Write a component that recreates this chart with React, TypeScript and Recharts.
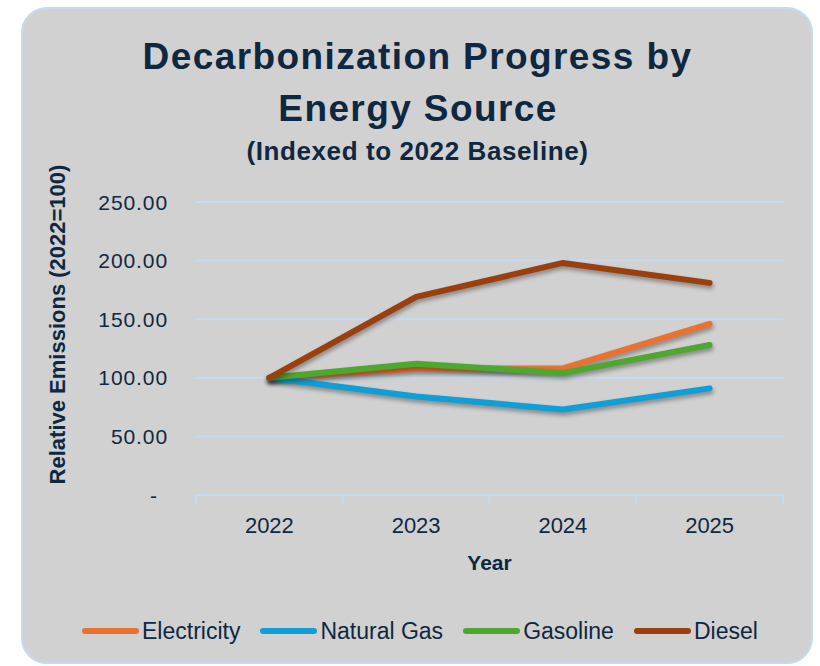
import { CartesianGrid, Legend, Line, LineChart, XAxis, YAxis } from "recharts";

const years = ["2022", "2023", "2024", "2025"];
const electricity = [100, 108, 108, 146];
const naturalGas = [100, 84, 73, 91];
const gasoline = [100, 112, 104, 128];
const diesel = [100, 169, 198, 181];
const yTicks = [0, 50, 100, 150, 200, 250];

const SERIES = [
  { key: "electricity", name: "Electricity", color: "#e97132" },
  { key: "naturalGas", name: "Natural Gas", color: "#0f9ed5" },
  { key: "gasoline", name: "Gasoline", color: "#4ea72e" },
  { key: "diesel", name: "Diesel", color: "#9c3f0e" },
];

const data = years.map((year, i) => ({
  year,
  electricity: electricity[i],
  naturalGas: naturalGas[i],
  gasoline: gasoline[i],
  diesel: diesel[i],
}));

const INK = "#0e2841";
const GRID = "#c6daf0";
const FONT = "'Liberation Sans', Arial, sans-serif";

function YTick({ x, y, payload }: any) {
  const v = payload.value as number;
  return (
    <text
      x={v === 0 ? x - 10 : x}
      y={y + 7.5}
      textAnchor="end"
      fill={INK}
      fontSize={21}
      letterSpacing={0.9}
      fontFamily={FONT}
    >
      {v === 0 ? "-" : v.toFixed(2)}
    </text>
  );
}

function XTick({ x, y, payload, index }: any) {
  const half = payload.offset ?? 73.4;
  const axisY = y - 8;
  return (
    <g>
      <line x1={x - half} x2={x - half} y1={axisY} y2={axisY + 8} stroke={GRID} strokeWidth={2} />
      {index === years.length - 1 && (
        <line x1={x + half} x2={x + half} y1={axisY} y2={axisY + 8} stroke={GRID} strokeWidth={2} />
      )}
      <text x={x} y={axisY + 38} textAnchor="middle" fill={INK} fontSize={22} fontFamily={FONT}>
        {payload.value}
      </text>
    </g>
  );
}

function YTitle({ viewBox }: any) {
  const x = viewBox.x;
  const y = viewBox.y + viewBox.height / 2 - 24;
  return (
    <text
      x={x}
      y={y}
      transform={`rotate(-90, ${x}, ${y})`}
      textAnchor="middle"
      fill={INK}
      fontSize={22}
      fontWeight="bold"
      fontFamily={FONT}
    >
      Relative Emissions (2022=100)
    </text>
  );
}

function XTitle({ viewBox }: any) {
  return (
    <text
      x={viewBox.x + viewBox.width / 2}
      y={viewBox.y + 75}
      textAnchor="middle"
      fill={INK}
      fontSize={21}
      fontWeight="bold"
      fontFamily={FONT}
    >
      Year
    </text>
  );
}

function LegendRow() {
  return (
    <div style={{ display: "flex", alignItems: "center", height: 26, paddingLeft: 82, fontFamily: FONT }}>
      {SERIES.map((s) => (
        <div key={s.key} style={{ display: "flex", alignItems: "center", marginRight: 20 }}>
          <div style={{ width: 57, height: 6, borderRadius: 3, background: s.color, marginRight: 3 }} />
          <span style={{ fontSize: 23, color: INK, lineHeight: "26px" }}>{s.name}</span>
        </div>
      ))}
    </div>
  );
}

export default function App() {
  return (
    <div style={{ position: "absolute", left: 0, top: 0, width: 820, height: 666, background: "#fff", overflow: "hidden" }}>
      <style>{`.recharts-line-curve { filter: drop-shadow(1px 3px 2px rgba(0,0,0,0.35)); }`}</style>
      <div
        style={{
          position: "absolute",
          left: 21,
          top: 7,
          width: 792,
          height: 657,
          boxSizing: "border-box",
          border: `2px solid ${GRID}`,
          borderRadius: 26,
          background: "#d1d1d1",
        }}
      />
      <svg width={820} height={180} style={{ position: "absolute", left: 0, top: 0 }}>
        <g fill={INK} fontFamily={FONT} fontWeight="bold" textAnchor="middle">
          <text x={417.5} y={69} fontSize={37} letterSpacing={1.4}>
            Decarbonization Progress by
          </text>
          <text x={418} y={121} fontSize={37} letterSpacing={1.4}>
            Energy Source
          </text>
          <text x={417.5} y={160} fontSize={26} letterSpacing={0.6}>
            (Indexed to 2022 Baseline)
          </text>
        </g>
      </svg>
      <div style={{ position: "absolute", left: 0, top: 0 }}>
        <LineChart width={820} height={666} data={data} margin={{ top: 202, right: 37, bottom: 75, left: 65 }}>
          <CartesianGrid horizontal vertical={false} stroke={GRID} strokeWidth={2} />
          <XAxis
            dataKey="year"
            scale="band"
            height={70}
            axisLine={{ stroke: GRID, strokeWidth: 2 }}
            tickLine={false}
            tick={<XTick />}
            interval={0}
            label={{ content: <XTitle /> }}
          />
          <YAxis
            width={131}
            domain={[0, 250]}
            ticks={yTicks}
            axisLine={false}
            tickLine={false}
            tickMargin={22}
            tick={<YTick />}
            label={{ content: <YTitle /> }}
          />
          <Legend
            content={<LegendRow />}
            wrapperStyle={{ left: 0, top: 618, width: 820, height: 26 }}
          />
          {SERIES.map((s) => (
            <Line
              key={s.key}
              dataKey={s.key}
              name={s.name}
              stroke={s.color}
              strokeWidth={6}
              strokeLinecap="round"
              strokeLinejoin="round"
              dot={false}
              activeDot={false}
              isAnimationActive={false}
            />
          ))}
        </LineChart>
      </div>
    </div>
  );
}
